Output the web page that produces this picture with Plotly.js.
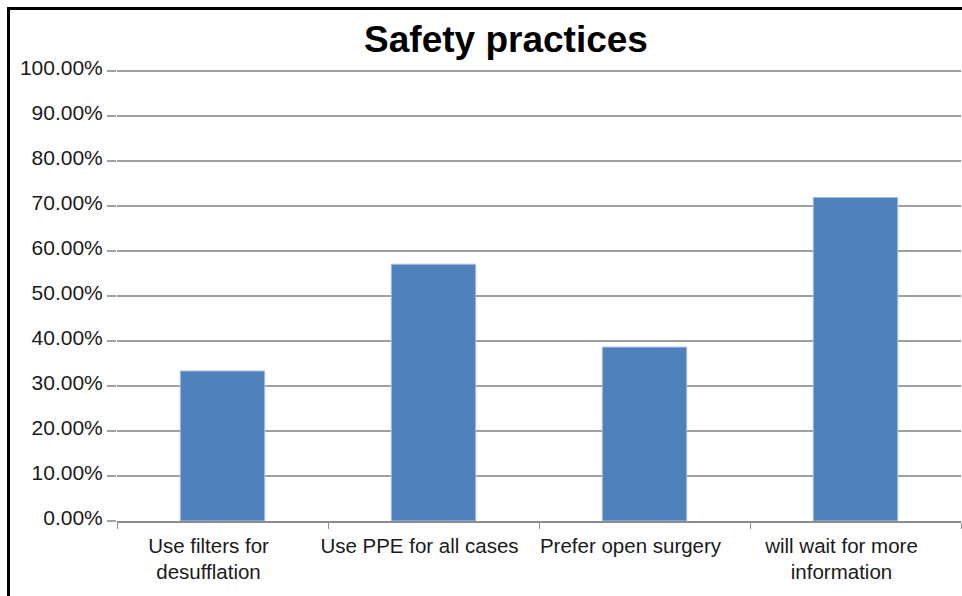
<!DOCTYPE html>
<html>
<head>
<meta charset="utf-8">
<script src="https://cdn.plot.ly/plotly-3.0.1.min.js"></script>
<style>
  html, body { margin: 0; padding: 0; background: #ffffff; }
  #wrap { position: relative; width: 962px; height: 596px; overflow: hidden; }
  #chart { position: absolute; left: 0; top: 0; width: 962px; height: 596px; }
  #frame { position: absolute; left: 7px; top: 7px; width: 1000px; height: 700px;
           border-left: 3px solid #000; border-top: 3px solid #000; pointer-events: none; }
</style>
</head>
<body>
<div id="wrap">
  <div id="chart"></div>
  <div id="frame"></div>
</div>
<script>
const categories = [
  "Use filters for<br>desufflation",
  "Use PPE for all cases",
  "Prefer open surgery",
  "will wait for more<br>information"
];
const values = [0.333, 0.570, 0.386, 0.718];
const chartTitle = "Safety practices";

const trace = {
  type: "bar",
  x: categories,
  y: values,
  marker: { color: "#4F81BD", line: { color: "#A7BFDE", width: 1 } },
  hoverinfo: "x+y"
};

const layout = {
  width: 962,
  height: 596,
  margin: { l: 117, r: 1, t: 66, b: 75 },
  paper_bgcolor: "#ffffff",
  plot_bgcolor: "#ffffff",
  showlegend: false,
  bargap: 0.6,
  title: {
    text: "<b>" + chartTitle + "</b>",
    font: { family: "Liberation Sans, Arial, sans-serif", size: 37, color: "#000000" },
    xref: "container", x: 0.526, xanchor: "center",
    yref: "container", y: 0.935, yanchor: "middle"
  },
  font: { family: "Liberation Sans, Arial, sans-serif", size: 21, color: "#1a1a1a" },
  xaxis: {
    type: "category",
    tickson: "boundaries",
    ticks: "outside",
    ticklen: 6,
    tickwidth: 1,
    tickcolor: "#8c8c8c",
    showline: true,
    linecolor: "#8c8c8c",
    linewidth: 2,
    showgrid: false,
    tickangle: 0,
    ticklabelshift: -14,
    ticklabelstandoff: 5,
    tickfont: { size: 20.5, color: "#1a1a1a" },
    fixedrange: true
  },
  yaxis: {
    range: [0, 1.01],
    dtick: 0.1,
    tick0: 0,
    tickformat: ".2%",
    ticks: "outside",
    ticklen: 9,
    tickwidth: 2,
    tickcolor: "#a0a0a0",
    showgrid: true,
    gridcolor: "#a0a0a0",
    gridwidth: 2,
    showline: false,
    zeroline: false,
    ticklabelshift: -3,
    tickfont: { size: 21, color: "#1a1a1a" },
    fixedrange: true
  }
};

Plotly.newPlot("chart", [trace], layout, { displayModeBar: false, staticPlot: true });
</script>
</body>
</html>
